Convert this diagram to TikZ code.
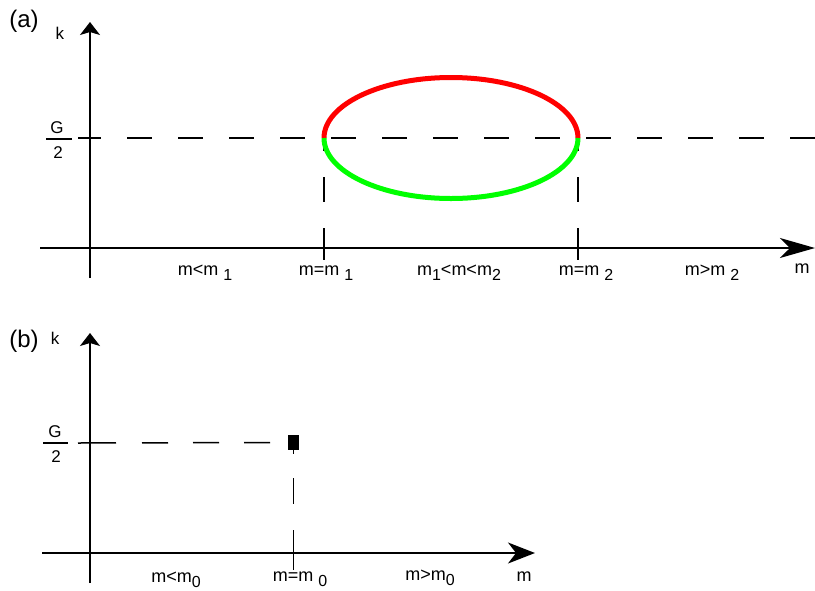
\documentclass[tikz,border=0pt]{standalone}
\usepackage{fontspec}
\setmainfont{Liberation Sans}
\usetikzlibrary{arrows.meta}
\definecolor{loopgreen}{RGB}{0,255,0}
\newcommand{\lsub}[1]{\raisebox{-5pt}{\fontsize{16}{16}\selectfont #1}}
\tikzset{
  axis/.style={line width=1.5pt},
  guide/.style={line width=1.5pt},
  loopline/.style={line width=5pt},
  lbl/.style={font=\fontsize{18}{21}\selectfont, inner sep=0pt, anchor=base},
  tag/.style={font=\fontsize{24}{28}\selectfont, inner sep=0pt},
  small/.style={font=\fontsize{17}{20}\selectfont, inner sep=0pt},
}

\begin{document}
\begin{tikzpicture}[x=1pt,y=-1pt]
	\useasboundingbox (0,0) rectangle (815,590);
	% panel (a)
	\node[tag] (taga) at (24,21) {(a)};
	\coordinate (ya0) at (90,278);
	\coordinate (ya1) at (90,22);
	\coordinate (xa0) at (40,248);
	\coordinate (xa1) at (815,248);
	\draw[axis,-{Stealth[length=13pt,width=20pt,inset=3pt]}] (ya0) -- (ya1);
	\draw[axis,-{Stealth[length=35pt,width=20pt,inset=10pt]}] (xa0) -- (xa1);
	\node[small] (ka) at (60,33) {k};
	\node[small] (Ga) at (57,128) {G};
	\node[small] (twoa) at (58,153) {2};
	\draw[line width=1.2pt] (46,139) -- (72,139);
	\coordinate (ha0) at (78,138);
	\coordinate (ha1) at (815,138);
	\draw[guide, dash pattern=on 25pt off 26pt, dash phase=2pt] (ha0) -- (ha1);
	\coordinate (m1) at (324,138);
	\coordinate (m2) at (578,138);
	\draw[guide, dash pattern=on 13pt off 26pt on 25pt off 26pt on 32pt off 30pt] (m1) -- (324,260);
	\draw[guide, dash pattern=on 13pt off 26pt on 25pt off 26pt on 32pt off 30pt] (m2) -- (578,260);
	\draw[loopline, red] (m1) arc[start angle=180, end angle=360, x radius=127, y radius=60.5];
	\draw[loopline, loopgreen] (m1) arc[start angle=180, end angle=0, x radius=127, y radius=60.5];
	\node[lbl] (lessa) at (205,275) {m<m \lsub{1}};
	\node[lbl] (eqone) at (326,275) {m=m \lsub{1}};
	\node[lbl] (between) at (459,275) {m\lsub{1}<m<m\lsub{2}};
	\node[lbl] (eqtwo) at (586,275) {m=m \lsub{2}};
	\node[lbl] (morea) at (712,275) {m>m \lsub{2}};
	\node[lbl] (ma) at (802,273) {m};
	% panel (b)
	\node[tag] (tagb) at (24,341) {(b)};
	\coordinate (yb0) at (90,583);
	\coordinate (yb1) at (90,333);
	\coordinate (xb0) at (42,553);
	\coordinate (xb1) at (535,553);
	\draw[axis,-{Stealth[length=13pt,width=20pt,inset=3pt]}] (yb0) -- (yb1);
	\draw[axis,-{Stealth[length=27pt,width=21pt,inset=8pt]}] (xb0) -- (xb1);
	\node[small] (kb) at (55,338) {k};
	\node[small] (Gb) at (55,432) {G};
	\node[small] (twob) at (56,457) {2};
	\draw[line width=1.2pt] (43,443) -- (68,443);
	\node[fill=black, inner sep=0pt, minimum width=11pt, minimum height=15pt] (pt) at (293.5,442.5) {};
	\coordinate (hb0) at (78,443);
	\draw[guide, dash pattern=on 38pt off 26pt on 26pt off 25pt on 26pt off 25pt on 26pt off 30pt] (hb0) -- (pt.west);
	\draw[guide, dash pattern=on 4pt off 24pt on 26pt off 26pt on 40pt off 30pt] (pt.south) -- (293.5,570);
	\node[lbl] (lessb) at (176,582) {m<m\lsub{0}};
	\node[lbl] (eqzero) at (300,581) {m=m \lsub{0}};
	\node[lbl] (moreb) at (430,580) {m>m\lsub{0}};
	\node[lbl] (mb) at (524,581) {m};
\end{tikzpicture}
\end{document}
